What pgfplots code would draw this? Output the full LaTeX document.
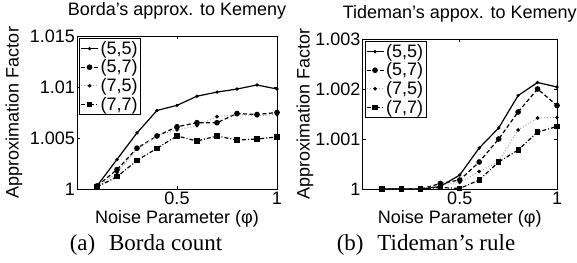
\documentclass[border=0pt]{standalone}
\usepackage{fontspec}
\setmainfont{Liberation Sans}
\newfontfamily\capfont{Liberation Serif}
\usepackage{pgfplots}
\pgfplotsset{compat=1.18}
\newcommand\fs{\fontsize{18}{21}\selectfont}
\pgfplotsset{
  myax/.style={
    scale only axis, anchor=south west, xmin=0, xmax=1,
    xtick={0.5,1}, xticklabels={0.5,1},
    tick align=inside, major tick length=3pt,
    axis line style={line width=0.8pt},
    every tick/.style={line width=0.6pt, black},
    /pgf/number format/assume math mode=true,
    tick label style={font=\fs},
    label style={font=\fs},
    title style={font=\fs, at={(axis description cs:0.5,1)}, anchor=base, yshift=14pt},
    xticklabel style={anchor=north, inner sep=0pt, yshift=-2.5pt},
    yticklabel style={anchor=east, inner sep=0pt, xshift=-2pt},
    xlabel style={at={(axis description cs:0.5,0)}, anchor=base, inner sep=0pt, yshift=-34pt},
    legend cell align=left,
    legend style={at={(axis description cs:0,1)}, anchor=north west, xshift=2pt, yshift=-2pt,
      inner sep=1pt, draw=black, line width=0.8pt, nodes={inner sep=2pt}, row sep=0pt, font=\fs},
    clip=false,
  },
  s55/.style={black, line width=1.2pt, mark=*, mark size=1pt},
  s57/.style={black, line width=1.2pt, dash pattern=on 4pt off 2.5pt, mark=*, mark size=2.2pt, mark options={solid}},
  s75/.style={gray!70, line width=1.1pt, dash pattern=on 1pt off 2pt, mark=*, mark size=1.2pt, mark options={solid, black}},
  s77/.style={black, line width=1.2pt, dash pattern=on 4pt off 2pt on 1pt off 2pt, mark=square*, mark size=2pt, mark options={solid}},
}
\begin{document}
\begin{tikzpicture}
\path[use as bounding box] (0pt,0pt) rectangle (577pt,262pt);
\begin{axis}[myax, at={(77pt,73pt)}, width=200pt, height=153pt,
  ymin=1, ymax=1.015, ytick={1,1.005,1.01,1.015}, yticklabels={1,1.005,1.01,1.015},
  title={Borda’s approx. to Kemeny},
  xlabel={Noise Parameter (φ)},
  ylabel={Approximation Factor},
  ylabel style={at={(axis description cs:-0.315,0.5)}, anchor=center}]
\addplot[s55] coordinates {(0.1,1.0003) (0.2,1.0029) (0.3,1.0055) (0.4,1.0077) (0.5,1.0082) (0.6,1.0091) (0.7,1.0095) (0.8,1.0098) (0.9,1.0102) (1.0,1.0098)};
\addlegendentry{(5,5)}
\addplot[s57] coordinates {(0.1,1.0003) (0.2,1.0019) (0.3,1.0040) (0.4,1.0052) (0.5,1.0061) (0.6,1.0065) (0.7,1.0065) (0.8,1.0074) (0.9,1.0073) (1.0,1.0075)};
\addlegendentry{(5,7)}
\addplot[s75] coordinates {(0.1,1.0002) (0.2,1.0016) (0.3,1.0039) (0.4,1.0052) (0.5,1.0058) (0.6,1.0062) (0.7,1.0071) (0.8,1.0073) (0.9,1.0072) (1.0,1.0073)};
\addlegendentry{(7,5)}
\addplot[s77] coordinates {(0.1,1.0002) (0.2,1.0012) (0.3,1.0028) (0.4,1.0040) (0.5,1.0052) (0.6,1.0047) (0.7,1.0052) (0.8,1.0048) (0.9,1.0049) (1.0,1.0051)};
\addlegendentry{(7,7)}
\end{axis}
\begin{axis}[myax, at={(362.5pt,73pt)}, width=194.5pt, height=150pt,
  ymin=1, ymax=1.003, ytick={1,1.001,1.002,1.003}, yticklabels={1,1.001,1.002,1.003},
  title={Tideman’s appox. to Kemeny},
  xlabel={Noise Parameter (φ)},
  ylabel={Approximation Factor},
  ylabel style={at={(axis description cs:-0.296,0.5)}, anchor=center}]
\addplot[s55] coordinates {(0.1,1) (0.2,1) (0.3,1) (0.4,1.00005) (0.5,1.00028) (0.6,1.00082) (0.7,1.00122) (0.8,1.00187) (0.9,1.00213) (1.0,1.00204)};
\addlegendentry{(5,5)}
\addplot[s57] coordinates {(0.1,1) (0.2,1) (0.3,1) (0.4,1.00011) (0.5,1.00018) (0.6,1.00054) (0.7,1.00100) (0.8,1.00154) (0.9,1.00200) (1.0,1.00167)};
\addlegendentry{(5,7)}
\addplot[s75] coordinates {(0.1,1) (0.2,1) (0.3,1) (0.4,1.00008) (0.5,1.00013) (0.6,1.00035) (0.7,1.00055) (0.8,1.00118) (0.9,1.00142) (1.0,1.00143)};
\addlegendentry{(7,5)}
\addplot[s77] coordinates {(0.1,1) (0.2,1) (0.3,1) (0.4,1.00003) (0.5,1.00001) (0.6,1.00018) (0.7,1.00054) (0.8,1.00078) (0.9,1.00114) (1.0,1.00125)};
\addlegendentry{(7,7)}
\end{axis}
\node[anchor=base, font={\capfont\fontsize{23}{27}\selectfont}] at (146pt,12pt) {(a)\hspace{0.6em}Borda count};
\node[anchor=base, font={\capfont\fontsize{23}{27}\selectfont}] at (426pt,12pt) {(b)\hspace{0.6em}Tideman’s rule};
\end{tikzpicture}
\end{document}
